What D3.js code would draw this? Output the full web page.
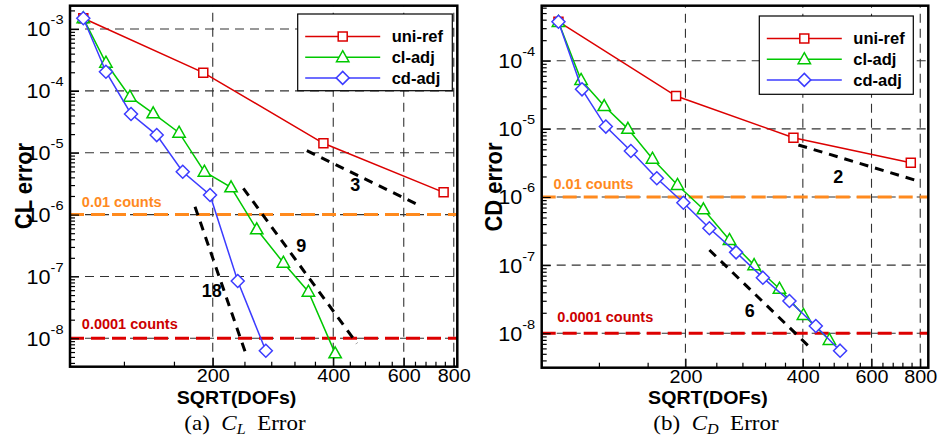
<!DOCTYPE html>
<html><head><meta charset="utf-8">
<script src="https://cdn.jsdelivr.net/npm/d3@7/dist/d3.min.js"></script>
<style>body{margin:0;background:#fff}svg{display:block}</style>
</head><body>
<svg id="c" width="940" height="448"></svg>
<script>
// ---------------- data ----------------
const seriesNames = ["uni-ref", "cl-adj", "cd-adj"];

// Panel (a): CL error
const clUniRefX = [95, 189.4, 378, 754.6];
const clUniRefY = [1.49e-3, 1.97e-4, 1.42e-5, 2.29e-6];
const clClAdjX = [95, 108.2, 124.2, 142, 164.8, 190.6, 222.2, 257.6, 300.2, 346.7, 404.4];
const clClAdjY = [1.49e-3, 2.85e-4, 8.05e-5, 4.34e-5, 2.11e-5, 4.93e-6, 2.76e-6, 5.78e-7, 1.67e-7, 5.66e-8, 5.71e-9];
const clCdAdjX = [95, 108.2, 125, 144.9, 168.3, 196.9, 230.9, 271.4];
const clCdAdjY = [1.49e-3, 2.04e-4, 4.23e-5, 1.93e-5, 4.93e-6, 2.07e-6, 8.43e-8, 6.3e-9];

// Panel (b): CD error
const cdUniRefX = [94.5, 189.3, 378.4, 756.6];
const cdUniRefY = [3.73e-4, 3.03e-5, 7.41e-6, 3.18e-6];
const cdClAdjX = [94.5, 108, 123.8, 142.4, 164.6, 190.8, 222.4, 259.4, 300, 348.4, 401.4, 467.9];
const cdClAdjY = [3.7e-4, 5.21e-5, 2.16e-5, 1.0e-5, 3.65e-6, 1.5e-6, 6.6e-7, 2.34e-7, 1.0e-7, 4.51e-8, 1.86e-8, 7.98e-9];
const cdCdAdjX = [94.5, 108.6, 125, 144.9, 168.9, 197.6, 230.4, 269.7, 315.9, 369.6, 431.8, 498.4];
const cdCdAdjY = [3.73e-4, 3.8e-5, 1.08e-5, 4.73e-6, 1.88e-6, 8.24e-7, 3.48e-7, 1.54e-7, 6.55e-8, 2.98e-8, 1.28e-8, 5.56e-9];

// reference-slope segments: [x0, x1], [y0, y1], label, label position (x, y)
const clSlopeLabels = ["3", "9", "18"];
const clSlopeX = [[343.6, 653.2], [238.5, 458.2], [180.6, 243.3]];
const clSlopeY = [[1.08e-5, 1.43e-6], [2.66e-6, 8.3e-9], [1.34e-6, 5.05e-9]];
const clSlopeLabelX = [454, 332.9, 198.9];
const clSlopeLabelY = [2.43e-6, 2.51e-7, 4.7e-8];

const cdSlopeLabels = ["2", "6"];
const cdSlopeX = [[389.6, 776], [230.4, 419.3]];
const cdSlopeY = [[5.8e-6, 1.77e-6], [1.67e-7, 6.03e-9]];
const cdSlopeLabelX = [493.4, 292.5];
const cdSlopeLabelY = [1.62e-6, 1.75e-8];

// tolerance lines
const refLabels = ["0.01 counts", "0.0001 counts"];
const refValues = [1e-6, 1e-8];
const clRefLabelX = [94.2, 94.2];
const clRefLabelY = [1.34e-6, 1.4e-8];
const cdRefLabelX = [91.8, 93.9];
const cdRefLabelY = [1.3e-6, 1.48e-8];

// axes
const xTickValues = [200, 400, 600, 800];
const xMinorValues = [120, 160, 240, 280, 320, 360, 440, 480, 520, 560, 640, 680, 720, 760];
const clYTicks = [1e-3, 1e-4, 1e-5, 1e-6, 1e-7, 1e-8];
const cdYTicks = [1e-4, 1e-5, 1e-6, 1e-7, 1e-8];
const clXDomain = [88.0, 816.4];
const clYDomain = [Math.pow(10, -2.623), Math.pow(10, -8.459)];
const cdXDomain = [85.6, 839];
const cdYDomain = [Math.pow(10, -3.193), Math.pow(10, -8.505)];

// ---------------- styles / layout ----------------
const seriesColors = ["#dc0000", "#00c800", "#3c3cff"];
const seriesMarkers = ["square", "triangle", "diamond"];
const refColors = ["#ff8a1e", "#dd0000"];
const refTextColors = ["#ff8a1e", "#cc0000"];

const panels = [
  {
    box: {left: 70, right: 457.3, top: 5.7, bottom: 366.7},
    xDomain: clXDomain, yDomain: clYDomain, yTicks: clYTicks,
    series: [[clUniRefX, clUniRefY], [clClAdjX, clClAdjY], [clCdAdjX, clCdAdjY]],
    slopes: {labels: clSlopeLabels, x: clSlopeX, y: clSlopeY, lx: clSlopeLabelX, ly: clSlopeLabelY},
    refLab: {x: clRefLabelX, y: clRefLabelY},
    yTitle: "CL error", yTitlePos: [32, 186],
    legend: {x: 297.7, y: 14, w: 154.6, h: 76.7},
    caption: ["(a)", "C", "L", "Error"], captionX: 245
  },
  {
    box: {left: 541.7, right: 928.3, top: 5.7, bottom: 367.7},
    xDomain: cdXDomain, yDomain: cdYDomain, yTicks: cdYTicks,
    series: [[cdUniRefX, cdUniRefY], [cdClAdjX, cdClAdjY], [cdCdAdjX, cdCdAdjY]],
    slopes: {labels: cdSlopeLabels, x: cdSlopeX, y: cdSlopeY, lx: cdSlopeLabelX, ly: cdSlopeLabelY},
    refLab: {x: cdRefLabelX, y: cdRefLabelY},
    yTitle: "CD error", yTitlePos: [502, 187],
    legend: {x: 759.3, y: 16, w: 154, h: 78.3},
    caption: ["(b)", "C", "D", "Error"], captionX: 716
  }
];

const SANS = "'Liberation Sans', Arial, Helvetica, sans-serif";
const svg = d3.select("#c");

function markerPath(type) {
  if (type === "square") return "M-4.5,-4.5H4.5V4.5H-4.5Z";
  if (type === "triangle") return "M0,-6.5L6.2,4.5H-6.2Z";
  return "M0,-6.5L6.5,0L0,6.5L-6.5,0Z";
}

panels.forEach((p, pi) => {
  const b = p.box;
  const x = d3.scaleLog().domain(p.xDomain).range([b.left, b.right]);
  const y = d3.scaleLog().domain(p.yDomain).range([b.top, b.bottom]);
  const g = svg.append("g");

  const clipId = "clip" + pi;
  svg.append("clipPath").attr("id", clipId).append("rect")
    .attr("x", b.left).attr("y", b.top).attr("width", b.right - b.left).attr("height", b.bottom - b.top);

  // grid
  const grid = g.append("g").attr("stroke", "#333").attr("stroke-width", 1.1).attr("stroke-dasharray", "9,6").attr("fill", "none");
  grid.selectAll("line.v").data(xTickValues).join("line").attr("class", "v")
    .attr("x1", d => x(d)).attr("x2", d => x(d)).attr("y1", b.bottom).attr("y2", b.top);
  grid.selectAll("line.h").data(p.yTicks).join("line").attr("class", "h")
    .attr("y1", d => y(d)).attr("y2", d => y(d)).attr("x1", b.left).attr("x2", b.right);

  // tolerance lines
  g.selectAll("line.ref").data(refValues).join("line").attr("class", "ref")
    .attr("x1", b.left).attr("x2", b.right).attr("y1", d => y(d)).attr("y2", d => y(d))
    .attr("stroke", (d, i) => refColors[i]).attr("stroke-width", 3).attr("stroke-dasharray", "14,7");
  g.selectAll("text.ref").data(refLabels).join("text").attr("class", "ref")
    .attr("x", (d, i) => x(p.refLab.x[i])).attr("y", (d, i) => y(p.refLab.y[i]))
    .attr("fill", (d, i) => refTextColors[i]).attr("font-family", SANS).attr("font-weight", "bold")
    .attr("font-size", 14.5).text(d => d);

  // slope lines
  const sl = g.append("g").attr("clip-path", `url(#${clipId})`);
  sl.selectAll("line").data(p.slopes.labels).join("line")
    .attr("x1", (d, i) => x(p.slopes.x[i][0])).attr("x2", (d, i) => x(p.slopes.x[i][1]))
    .attr("y1", (d, i) => y(p.slopes.y[i][0])).attr("y2", (d, i) => y(p.slopes.y[i][1]))
    .attr("stroke", "#000").attr("stroke-width", 3).attr("stroke-dasharray", "9,7");
  g.selectAll("text.slope").data(p.slopes.labels).join("text").attr("class", "slope")
    .attr("x", (d, i) => x(p.slopes.lx[i])).attr("y", (d, i) => y(p.slopes.ly[i]))
    .attr("text-anchor", "middle").attr("font-family", SANS).attr("font-weight", "bold")
    .attr("font-size", 18).text(d => d);

  // series
  const line = d3.line().x(d => x(d[0])).y(d => y(d[1]));
  p.series.forEach((s, si) => {
    const pts = s[0].map((v, k) => [v, s[1][k]]);
    const sg = g.append("g");
    sg.append("path").datum(pts).attr("d", line).attr("fill", "none")
      .attr("stroke", seriesColors[si]).attr("stroke-width", 1.5);
    sg.selectAll("path.m").data(pts).join("path").attr("class", "m")
      .attr("transform", d => `translate(${x(d[0])},${y(d[1])})`)
      .attr("d", markerPath(seriesMarkers[si])).attr("fill", "#fff")
      .attr("stroke", seriesColors[si]).attr("stroke-width", 1.5);
  });

  // axes ticks (inward)
  const minorY = [];
  const e0 = Math.floor(Math.log10(p.yDomain[1])), e1 = Math.ceil(Math.log10(p.yDomain[0]));
  for (let e = e0; e <= e1; e++) for (let k = 2; k <= 9; k++) {
    const v = k * Math.pow(10, e);
    if (v <= p.yDomain[0] && v >= p.yDomain[1]) minorY.push(v);
  }
  const axY1 = g.append("g").attr("transform", `translate(${b.left},0)`)
    .call(d3.axisLeft(y).tickValues(minorY).tickSize(-5).tickSizeOuter(0).tickFormat(""));
  const axY2 = g.append("g").attr("transform", `translate(${b.left},0)`)
    .call(d3.axisLeft(y).tickValues(p.yTicks).tickSize(-9).tickSizeOuter(0).tickFormat(""));
  const axX1 = g.append("g").attr("transform", `translate(0,${b.bottom})`)
    .call(d3.axisBottom(x).tickValues(xMinorValues).tickSize(-5).tickSizeOuter(0).tickFormat(""));
  const axX2 = g.append("g").attr("transform", `translate(0,${b.bottom})`)
    .call(d3.axisBottom(x).tickValues(xTickValues).tickSize(-9).tickSizeOuter(0).tickPadding(3).tickFormat(d3.format("d")));
  [axY1, axY2, axX1, axX2].forEach(a => {
    a.select(".domain").remove();
    a.selectAll(".tick line").attr("stroke", "#000").attr("stroke-width", 1.2);
  });
  axX2.selectAll(".tick text").attr("font-family", SANS).attr("font-size", 17.5).attr("fill", "#000")
    .attr("transform", "scale(1.13,1)");

  // y tick labels with superscripts
  p.yTicks.forEach(v => {
    const t = g.append("text").attr("transform", `translate(${b.left - 6.5},${y(v) + 7.4}) scale(1.08,1)`)
      .attr("text-anchor", "end").attr("font-family", SANS).attr("font-size", 20).attr("fill", "#000");
    t.append("tspan").text("10");
    t.append("tspan").attr("font-size", 13.5).attr("dy", -12).text(String(Math.round(Math.log10(v))));
  });

  // frame
  g.append("rect").attr("x", b.left).attr("y", b.top).attr("width", b.right - b.left).attr("height", b.bottom - b.top)
    .attr("fill", "none").attr("stroke", "#000").attr("stroke-width", 2.5);

  // axis titles
  g.append("text").attr("transform", `translate(${b.left + 0.43 * (b.right - b.left)},403.5) scale(1.12,1)`)
    .attr("text-anchor", "middle").attr("font-family", SANS).attr("font-weight", "bold").attr("font-size", 17.5)
    .text("SQRT(DOFs)");
  g.append("text").attr("transform", `translate(${p.yTitlePos[0]},${p.yTitlePos[1]}) scale(1.12,1) rotate(-90)`)
    .attr("text-anchor", "middle").attr("font-family", SANS).attr("font-weight", "bold").attr("font-size", 22)
    .text(p.yTitle);

  // legend
  const L = p.legend;
  const lg = g.append("g");
  lg.append("rect").attr("x", L.x).attr("y", L.y).attr("width", L.w).attr("height", L.h)
    .attr("fill", "#fff").attr("stroke", "#000").attr("stroke-width", 1.2);
  seriesNames.forEach((name, si) => {
    const ry = L.y + 22.5 + si * 20.7;
    lg.append("line").attr("x1", L.x + 7.5).attr("x2", L.x + 82.5).attr("y1", ry).attr("y2", ry)
      .attr("stroke", seriesColors[si]).attr("stroke-width", 1.5);
    lg.append("path").attr("transform", `translate(${L.x + 45},${ry})`).attr("d", markerPath(seriesMarkers[si]))
      .attr("fill", "#fff").attr("stroke", seriesColors[si]).attr("stroke-width", 1.5);
    lg.append("text").attr("x", L.x + 94).attr("y", ry).attr("dy", "0.36em")
      .attr("font-family", SANS).attr("font-weight", "bold").attr("font-size", 16.5).text(name);
  });

  // caption
  const cap = svg.append("text").attr("transform", `translate(${p.captionX},430) scale(1.15,1)`)
    .attr("text-anchor", "middle").attr("font-family", "'Liberation Serif', 'Times New Roman', serif")
    .attr("font-size", 20).attr("fill", "#000");
  cap.append("tspan").text(p.caption[0] + "\u2002");
  cap.append("tspan").attr("font-style", "italic").text(p.caption[1]);
  cap.append("tspan").attr("font-style", "italic").attr("font-size", 14).attr("dy", 3.5).text(p.caption[2]);
  cap.append("tspan").attr("dy", -3.5).text("\u2002" + p.caption[3]);
});
</script>
</body></html>
